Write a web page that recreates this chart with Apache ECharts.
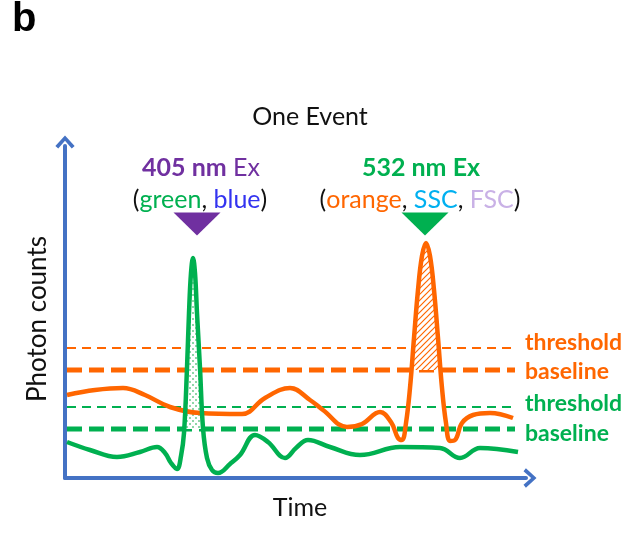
<!DOCTYPE html>
<html>
<head>
<meta charset="utf-8">
<script src="https://cdn.jsdelivr.net/npm/echarts@6/dist/echarts.min.js"></script>
<style>
  html, body { margin: 0; padding: 0; background: #fff; }
  #chart { width: 637px; height: 534px; }
</style>
</head>
<body>
<div id="chart"></div>
<script>
// schematic signal traces, [time, photon counts] in arbitrary units
const greenSignal = [
  [2, 36], [25, 28], [52, 21], [75, 26], [92, 31], [100, 25], [106, 15],
  [112, 9], [116, 22], [119, 45], [122, 110], [124, 165], [126, 205],
  [128, 220], [130, 205], [132, 165], [135, 110], [138, 50], [142, 20],
  [147, 8], [153, 5], [165, 14], [175, 23], [190, 43], [203, 36],
  [220, 20], [231, 30], [243, 38], [265, 31], [295, 23], [335, 31],
  [375, 30], [395, 20], [415, 30], [453, 26]
];
const orangeSignal = [
  [2, 83], [30, 88], [58, 90], [80, 83], [105, 71], [135, 65], [177, 64],
  [200, 80], [225, 90], [245, 78], [258, 68], [282, 51], [297, 54],
  [315, 66], [326, 56], [333, 40], [337, 38], [341, 55], [345, 90],
  [349, 140], [353, 188], [357, 222], [361, 235], [365, 222], [369, 188],
  [373, 140], [377, 90], [381, 55], [385, 37], [390, 38], [397, 55],
  [408, 63], [425, 65], [448, 60]
];
// part of each peak above its own baseline (hatched area)
const greenPeak = [
  [119.5, 49], [122, 110], [124, 165], [126, 205], [128, 220],
  [130, 205], [132, 165], [135, 110], [137.5, 49]
];
const orangePeak = [
  [346.5, 108], [349, 140], [353, 188], [357, 222], [361, 235],
  [365, 222], [369, 188], [373, 140], [375.5, 108]
];

const levels = [
  { name: 'threshold', value: 130, color: '#FF6600', width: 2 },
  { name: 'baseline', value: 108, color: '#FF6600', width: 5 },
  { name: 'threshold', value: 71, color: '#00B050', width: 2 },
  { name: 'baseline', value: 49, color: '#00B050', width: 5 }
];
const labelOffsets = [-5, 2, -3, 5];
const levelStart = 2;
const levelEnd = 450;

// excitation markers
const markers = [
  { name: '405 nm', pos: [132, 254], color: '#7030A0' },
  { name: '532 nm', pos: [360, 254], color: '#00B050' }
];

const FONT = 'Lato, "Open Sans", sans-serif';
const FS = 25;

function hatch(bg, fg, kind) {
  const c = document.createElement('canvas');
  c.width = 6; c.height = 6;
  const ctx = c.getContext('2d');
  ctx.fillStyle = bg;
  ctx.fillRect(0, 0, 6, 6);
  ctx.fillStyle = fg;
  ctx.strokeStyle = fg;
  if (kind === 'lines') {
    ctx.lineWidth = 1.2;
    ctx.beginPath();
    ctx.moveTo(0, 6); ctx.lineTo(6, 0);
    ctx.moveTo(-3, 3); ctx.lineTo(3, -3);
    ctx.moveTo(3, 9); ctx.lineTo(9, 3);
    ctx.stroke();
  } else {
    ctx.fillRect(0, 0, 2, 2);
    ctx.fillRect(3, 3, 2, 2);
  }
  return { image: c, repeat: 'repeat' };
}

const chart = echarts.init(document.getElementById('chart'));

const arrowPath = 'path://M0,11 L10,0 L20,11 L17,13.5 L10,5.5 L3,13.5 Z';

const series = [];

levels.forEach((lv, i) => {
  series.push({
    type: 'line',
    data: [[levelStart, lv.value], [levelEnd, lv.value]],
    symbol: 'none',
    silent: true,
    z: 1,
    lineStyle: {
      color: lv.color,
      width: lv.width,
      type: lv.width > 3 ? [15, 7] : [9, 6]
    },
    endLabel: {
      show: true,
      formatter: lv.name,
      color: lv.color,
      fontFamily: FONT,
      fontWeight: 'bold',
      fontSize: 23,
      distance: 10,
      offset: [0, labelOffsets[i]]
    }
  });
});

series.push({
  type: 'line',
  data: greenPeak,
  smooth: 0.4,
  symbol: 'none',
  z: 2,
  lineStyle: { width: 0 },
  areaStyle: { origin: 49, color: hatch('#ffffff', '#8fd6a8', 'dots'), opacity: 1 }
});
series.push({
  type: 'line',
  data: orangePeak,
  smooth: 0.4,
  symbol: 'none',
  z: 2,
  lineStyle: { width: 0 },
  areaStyle: { origin: 108, color: hatch('#ffffff', '#FF6600', 'lines'), opacity: 1 }
});

series.push({
  type: 'line',
  name: 'orange',
  data: orangeSignal,
  smooth: 0.4,
  symbol: 'none',
  z: 3,
  lineStyle: { color: '#FF6600', width: 4.5 }
});
series.push({
  type: 'line',
  name: 'green',
  data: greenSignal,
  smooth: 0.4,
  symbol: 'none',
  z: 4,
  lineStyle: { color: '#00B050', width: 4.5 }
});

series.push({
  type: 'scatter',
  data: markers.map(m => ({ value: m.pos, itemStyle: { color: m.color, opacity: 1 } })),
  symbol: 'triangle',
  symbolRotate: 180,
  symbolSize: [47, 23],
  z: 5
});

const option = {
  animation: false,
  grid: { left: 65, top: 146, width: 461, height: 332 },
  xAxis: {
    type: 'value', min: 0, max: 461,
    axisLine: {
      onZero: false,
      lineStyle: { color: '#4472C4', width: 4 },
      symbol: ['none', arrowPath],
      symbolSize: [20, 13],
      symbolOffset: [0, 4]
    },
    axisTick: { show: false },
    axisLabel: { show: false },
    splitLine: { show: false }
  },
  yAxis: {
    type: 'value', min: 0, max: 332,
    axisLine: {
      show: true,
      onZero: false,
      lineStyle: { color: '#4472C4', width: 4 },
      symbol: ['none', arrowPath],
      symbolSize: [20, 13],
      symbolOffset: [0, 4]
    },
    axisTick: { show: false },
    axisLabel: { show: false },
    splitLine: { show: false }
  },
  graphic: [
    { type: 'text', left: 12, top: 0, style: { text: 'b', font: 'bold 40px "Liberation Sans", Arial', fill: '#000' } },
    { type: 'text', x: 310, y: 117, style: { text: 'One Event', align: 'center', verticalAlign: 'middle', font: FS + 'px ' + FONT, fill: '#111' } },
    {
      type: 'text', x: 201, y: 168,
      style: {
        text: '{b|405 nm} {n|Ex}', align: 'center', verticalAlign: 'middle',
        rich: {
          b: { fontFamily: FONT, fontSize: FS, fontWeight: 'bold', fill: '#7030A0' },
          n: { fontFamily: FONT, fontSize: FS, fill: '#7030A0', padding: [0, 0, 0, 3] }
        }
      }
    },
    {
      type: 'text', x: 200, y: 200,
      style: {
        text: '{k|(}{g|green}{k|, }{u|blue}{k|)}', align: 'center', verticalAlign: 'middle',
        rich: {
          k: { fontFamily: FONT, fontSize: FS, fill: '#111' },
          g: { fontFamily: FONT, fontSize: FS, fill: '#00B050' },
          u: { fontFamily: FONT, fontSize: FS, fill: '#3333F0' }
        }
      }
    },
    {
      type: 'text', x: 421, y: 168,
      style: { text: '532 nm Ex', align: 'center', verticalAlign: 'middle', font: 'bold ' + FS + 'px ' + FONT, fill: '#00B050' }
    },
    {
      type: 'text', x: 420, y: 200,
      style: {
        text: '{k|(}{o|orange}{k|, }{s|SSC}{k|, }{f|FSC}{k|)}', align: 'center', verticalAlign: 'middle',
        rich: {
          k: { fontFamily: FONT, fontSize: FS, fill: '#111' },
          o: { fontFamily: FONT, fontSize: FS, fill: '#FF6600' },
          s: { fontFamily: FONT, fontSize: FS, fill: '#00B0F0' },
          f: { fontFamily: FONT, fontSize: FS, fill: '#C9B1E6' }
        }
      }
    },
    {
      type: 'text', x: 38, y: 319, rotation: Math.PI / 2,
      style: { text: 'Photon counts', align: 'center', verticalAlign: 'middle', font: '26px ' + FONT, fill: '#111' }
    },
    { type: 'text', x: 300, y: 508, style: { text: 'Time', align: 'center', verticalAlign: 'middle', font: FS + 'px ' + FONT, fill: '#111' } }
  ],
  series: series
};

chart.setOption(option);
</script>
</body>
</html>
